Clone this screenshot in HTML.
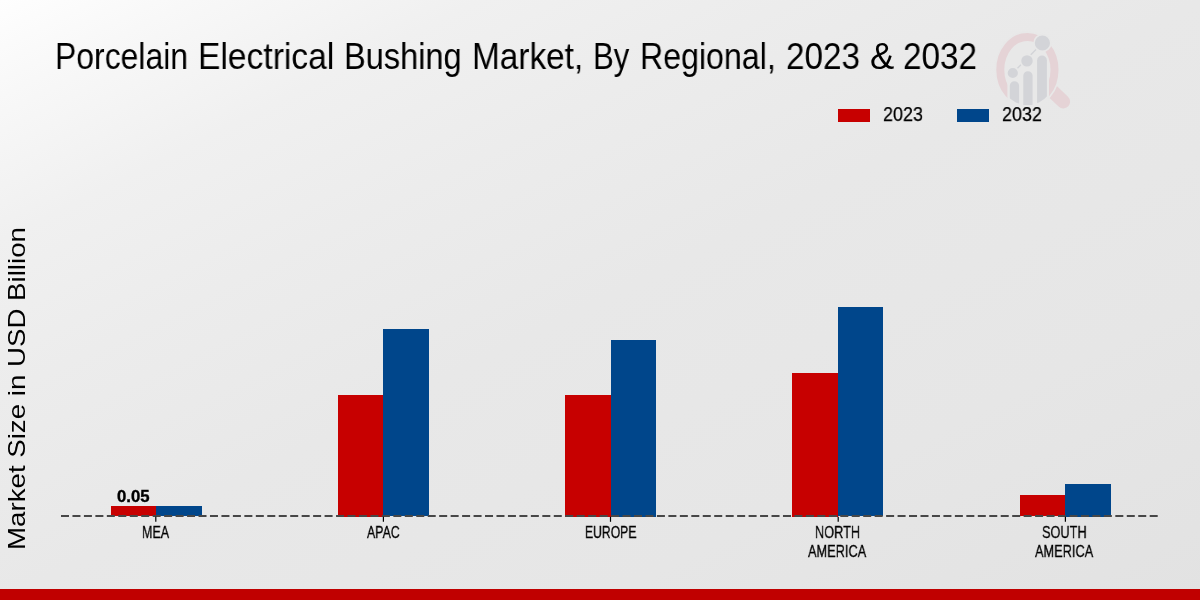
<!DOCTYPE html>
<html><head><meta charset="utf-8">
<style>
html,body{margin:0;padding:0;}
body{width:1200px;height:600px;overflow:hidden;position:relative;font-family:"Liberation Sans",sans-serif;color:#000;
background:linear-gradient(to bottom right,#fefefe 0%,#f8f8f8 8%,#f0f0f0 20%,#ececec 33%,#e8e8e8 50%,#e6e6e6 75%,#e2e2e2 100%);}
.t{position:absolute;white-space:nowrap;line-height:1;transform-origin:0 0;will-change:transform;}
.bar{position:absolute;}
.tw{top:38.7px;font-size:36.4px;}
.r{background:#c70000;}
.b{background:#00468b;}
</style></head><body>
<svg style="position:absolute;left:990px;top:25px" width="90" height="90" viewBox="990 25 90 90">
<defs><clipPath id="cl"><ellipse cx="1027.4" cy="69.5" rx="30" ry="35.6"/></clipPath>
<clipPath id="cv"><ellipse cx="1027.4" cy="69.8" rx="32" ry="39"/></clipPath></defs>
<line x1="1049" y1="88" x2="1063.3" y2="101.6" stroke="#e5d3d6" stroke-width="13.6" stroke-linecap="round"/>
<ellipse cx="1027.4" cy="69.8" rx="32.8" ry="38.6" fill="#e8e8e8"/>
<ellipse cx="1027.4" cy="69.8" rx="27.1" ry="32.9" fill="none" stroke="#e5d3d6" stroke-width="8"/>
<rect x="1007.4" y="78" width="41.6" height="40" fill="#e8e8e8" clip-path="url(#cv)"/>
<g clip-path="url(#cl)" fill="#d3d4d8">
<path d="M1009.8 120 V85.8 A4.65 4.65 0 0 1 1019.1 85.8 V120 Z"/>
<path d="M1023.3 120 V75.8 A4.65 4.65 0 0 1 1032.6 75.8 V120 Z"/>
<path d="M1037.1 120 V60.5 A4.9 4.9 0 0 1 1046.9 60.5 V120 Z"/>
</g>
<line x1="1012.8" y1="73" x2="1042.4" y2="43" stroke="#d3d4d8" stroke-width="1.5"/>
<g fill="#d3d4d8" stroke="#e8e8e8" stroke-width="1.6">
<circle cx="1012.8" cy="73" r="5.9"/>
<circle cx="1027" cy="60.9" r="6.5"/>
<circle cx="1042.4" cy="43" r="8.4"/>
</g>
</svg>
<div class="t tw" style="left:54.75px;transform:scaleX(0.8767);">Porcelain</div>
<div class="t tw" style="left:197.65px;transform:scaleX(0.9236);">Electrical</div>
<div class="t tw" style="left:343.71px;transform:scaleX(0.8945);">Bushing</div>
<div class="t tw" style="left:471.92px;transform:scaleX(0.9167);">Market,</div>
<div class="t tw" style="left:593.29px;transform:scaleX(0.8537);">By</div>
<div class="t tw" style="left:639.63px;transform:scaleX(0.8832);">Regional,</div>
<div class="t tw" style="left:786.39px;transform:scaleX(0.9139);">2023</div>
<div class="t tw" style="left:869.92px;transform:scaleX(0.9826);">&amp;</div>
<div class="t tw" style="left:902.59px;transform:scaleX(0.9139);">2032</div>

<div class="bar r" style="left:838px;top:109px;width:32px;height:12.5px;"></div>
<div id="l1" class="t" style="left:883px;top:102.8px;font-size:21.1px;-webkit-text-stroke:0.25px #000;transform:scaleX(0.85);">2023</div>
<div class="bar b" style="left:957px;top:109px;width:32px;height:12.5px;"></div>
<div id="l2" class="t" style="left:1002px;top:102.8px;font-size:21.1px;-webkit-text-stroke:0.25px #000;transform:scaleX(0.85);">2032</div>

<div id="ylab" class="t" style="left:5px;top:550px;font-size:24px;transform:rotate(-90deg) scaleX(1.153);">Market Size in USD Billion</div>


<div class="bar r" style="left:110.5px;top:505.8px;width:45.5px;height:10.7px;"></div>
<div class="bar b" style="left:156.0px;top:505.8px;width:45.5px;height:10.7px;"></div>
<div class="bar r" style="left:337.8px;top:395px;width:45.5px;height:121.5px;"></div>
<div class="bar b" style="left:383.3px;top:328.8px;width:45.5px;height:187.7px;"></div>
<div class="bar r" style="left:565.1px;top:395px;width:45.5px;height:121.5px;"></div>
<div class="bar b" style="left:610.6px;top:340px;width:45.5px;height:176.5px;"></div>
<div class="bar r" style="left:792.4px;top:373px;width:45.5px;height:143.5px;"></div>
<div class="bar b" style="left:837.9px;top:307.3px;width:45.5px;height:209.2px;"></div>
<div class="bar r" style="left:1019.7px;top:494.9px;width:45.5px;height:21.6px;"></div>
<div class="bar b" style="left:1065.2px;top:484px;width:45.5px;height:32.5px;"></div>
<svg style="position:absolute;left:0;top:0" width="1200" height="600">
<line x1="61" y1="516" x2="1158.7" y2="516" stroke="#474747" stroke-width="2" stroke-dasharray="8 3.46"/>
<g stroke="#000" stroke-width="1.2">
<line x1="155.8" y1="516.8" x2="155.8" y2="521.8"/>
<line x1="383.4" y1="516.8" x2="383.4" y2="521.8"/>
<line x1="610.5" y1="516.8" x2="610.5" y2="521.8"/>
<line x1="838.2" y1="516.8" x2="838.2" y2="521.8"/>
<line x1="1065.4" y1="516.8" x2="1065.4" y2="521.8"/>
</g>
</svg>

<div id="v" class="t" style="left:116.5px;top:488.5px;font-size:15.8px;font-weight:bold;-webkit-text-stroke:0.35px #000;transform:scaleX(1.06);">0.05</div>
<div id="c1" class="t" style="left:142px;top:524px;font-size:17px;-webkit-text-stroke:0.3px #000;transform:scaleX(0.735);">MEA</div>
<div id="c2" class="t" style="left:366.7px;top:524px;font-size:17px;-webkit-text-stroke:0.3px #000;transform:scaleX(0.726);">APAC</div>
<div id="c3" class="t" style="left:585px;top:524px;font-size:17px;-webkit-text-stroke:0.3px #000;transform:scaleX(0.716);">EUROPE</div>
<div id="c4a" class="t" style="left:815px;top:524px;font-size:17px;-webkit-text-stroke:0.3px #000;transform:scaleX(0.75);">NORTH</div>
<div id="c4b" class="t" style="left:808px;top:543px;font-size:17px;-webkit-text-stroke:0.3px #000;transform:scaleX(0.753);">AMERICA</div>
<div id="c5a" class="t" style="left:1042px;top:524px;font-size:17px;-webkit-text-stroke:0.3px #000;transform:scaleX(0.75);">SOUTH</div>
<div id="c5b" class="t" style="left:1035px;top:543px;font-size:17px;-webkit-text-stroke:0.3px #000;transform:scaleX(0.753);">AMERICA</div>

<div style="position:absolute;left:0;top:588.7px;width:1200px;height:11.3px;background:#c00000;"></div>
</body></html>
